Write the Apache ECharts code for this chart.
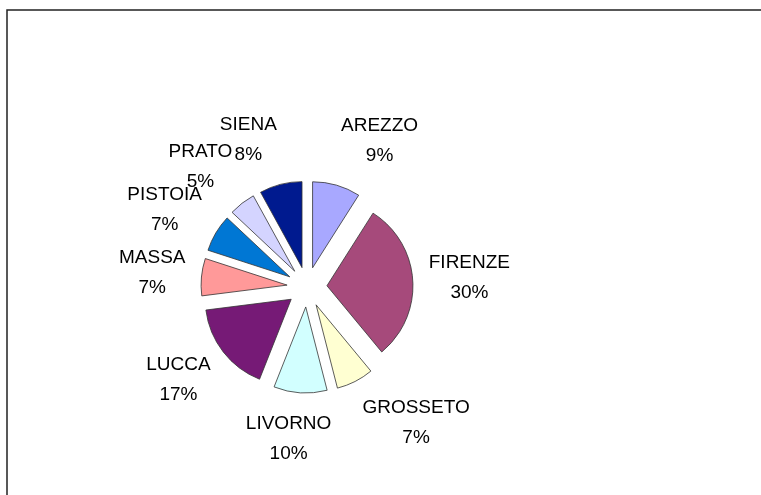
<!DOCTYPE html>
<html>
<head>
<meta charset="utf-8">
<script src="https://cdn.jsdelivr.net/npm/echarts@6/dist/echarts.min.js"></script>
<style>
  html, body { margin: 0; padding: 0; background: #fff; }
  #main { width: 761px; height: 495px; }
</style>
</head>
<body>
<div id="main"></div>
<script>
const provinces = ["AREZZO", "FIRENZE", "GROSSETO", "LIVORNO", "LUCCA", "MASSA", "PISTOIA", "PRATO", "SIENA"];
const shares = [9, 30, 7, 10, 17, 7, 7, 5, 8];
const sliceColors = ["#A8A8FF", "#A64A7B", "#FFFFD2", "#D2FFFF", "#761A76", "#FF9999", "#0077D4", "#D4D4FF", "#001A8F"];

const chartDom = document.getElementById("main");
const myChart = echarts.init(chartDom);

const cx = 307, cy = 287;
const total = shares.reduce((a, b) => a + b, 0);

// bisector angle of each slice, clockwise from 12 o'clock
const midAngles = [];
let acc = 0;
shares.forEach((v) => {
  midAngles.push(((acc + v / 2) / total) * 2 * Math.PI);
  acc += v;
});

const clamp = (v) => Math.max(-1, Math.min(1, v));

const option = {
  animation: false,
  graphic: [
    {
      type: "rect",
      shape: { x: 7, y: 10, width: 800, height: 600 },
      style: { fill: "none", stroke: "#222", lineWidth: 1.5 },
      z: -1,
    },
  ],
  series: [
    {
      // exploded slices
      type: "pie",
      center: [cx, cy],
      radius: 86,
      startAngle: 90,
      clockwise: true,
      selectedMode: "multiple",
      selectedOffset: 20,
      itemStyle: { borderColor: "#333", borderWidth: 0.8 },
      select: { itemStyle: { borderColor: "#333", borderWidth: 0.8 } },
      emphasis: { disabled: true },
      label: { show: false },
      labelLine: { show: false },
      data: provinces.map((name, i) => ({
        name: name,
        value: shares[i],
        selected: true,
        itemStyle: { color: sliceColors[i] },
      })),
    },
    {
      // same slices, invisible, only carrying the labels
      type: "pie",
      center: [cx, cy],
      radius: 86,
      startAngle: 90,
      clockwise: true,
      silent: true,
      avoidLabelOverlap: false,
      itemStyle: { color: "rgba(0,0,0,0)", borderWidth: 0 },
      emphasis: { disabled: true },
      label: {
        show: true,
        position: "outside",
        formatter: (p) => p.name + "\n" + p.value + "%",
        fontFamily: "Liberation Sans, Arial, sans-serif",
        fontSize: 19,
        lineHeight: 30,
        color: "#000",
      },
      labelLine: { show: false },
      // label box sits just outside the exploded slice, pushed away along its bisector
      labelLayout: (params) => {
        const a = midAngles[params.dataIndex];
        const w = params.labelRect.width;
        const h = params.labelRect.height;
        const R = 122;
        const s = Math.sin(a), c = Math.cos(a);
        const midX = cx + R * s + (w / 2) * clamp(4 * s);
        const midY = cy - R * c - (h / 2) * c;
        return { x: midX, y: midY - h / 2, align: "center", verticalAlign: "top" };
      },
      data: provinces.map((name, i) => ({ name: name, value: shares[i] })),
    },
  ],
};

option && myChart.setOption(option);
</script>
</body>
</html>
